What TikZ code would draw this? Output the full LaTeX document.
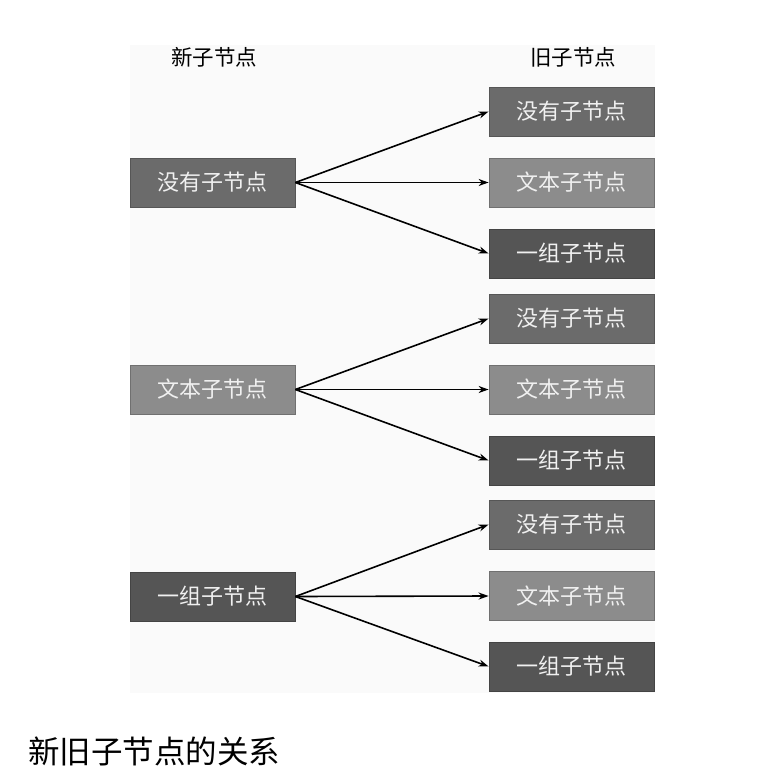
\documentclass[tikz,border=0pt]{standalone}
\usepackage{fontspec}
\newfontfamily\cjk{Noto Sans CJK SC}
\usetikzlibrary{arrows.meta}
\definecolor{cA}{HTML}{6B6B6B}
\definecolor{cB}{HTML}{8C8C8C}
\definecolor{cC}{HTML}{555555}
\definecolor{bg}{HTML}{FAFAFA}
\begin{document}
\begin{tikzpicture}[x=1pt,y=-1pt,
  box/.style={draw=#1!80!black, fill=#1, line width=0.8pt, minimum width=165pt, minimum height=49pt,
    inner sep=0pt, text=white!94!black, font=\cjk\fontsize{22}{24}\selectfont, anchor=center},
  head/.style={font=\cjk\fontsize{21.5}{23}\selectfont, text=black},
  arr/.style={-{Stealth[length=10pt,width=7pt]}, line width=1.6pt, black}]
\useasboundingbox (0,0) rectangle (783,784);
\fill[white] (0,0) rectangle (783,784);
\fill[bg] (130,45) rectangle (655,693);
\node[head] (h1) at (214,57) {新子节点};
\node[head] (h2) at (573,57) {旧子节点};
% left
\node[box=cA] (L1) at (212.5,182.5) {没有子节点};
\node[box=cB] (L2) at (212.5,389.5) {文本子节点};
\node[box=cC] (L3) at (212.5,596.5) {一组子节点};
% right
\node[box=cA] (R11) at (571.5,111.5) {没有子节点};
\node[box=cB] (R12) at (571.5,182.5) {文本子节点};
\node[box=cC] (R13) at (571.5,253.5) {一组子节点};
\node[box=cA] (R21) at (571.5,318.5) {没有子节点};
\node[box=cB] (R22) at (571.5,389.5) {文本子节点};
\node[box=cC] (R23) at (571.5,460.5) {一组子节点};
\node[box=cA] (R31) at (571.5,524.5) {没有子节点};
\node[box=cB] (R32) at (571.5,596) {文本子节点};
\node[box=cC] (R33) at (571.5,666.5) {一组子节点};
\foreach \i in {1,2,3}{
  \foreach \j in {1,2,3}{
    \draw[arr] (L\i.east) -- (R\i\j.west);
  }
}
\node[font=\cjk\fontsize{31.5}{33}\selectfont, anchor=west, inner sep=0pt] (cap) at (28,751) {新旧子节点的关系};
\end{tikzpicture}
\end{document}
